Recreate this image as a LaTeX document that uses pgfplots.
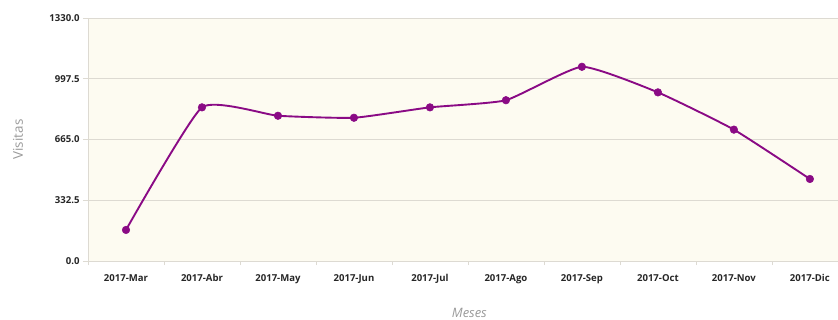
\documentclass[border=0pt]{standalone}
\usepackage{pgfplots}
\pgfplotsset{compat=1.18}
\usepackage{fontspec}
\setmainfont{Open Sans}
\setsansfont{Open Sans}
\definecolor{bgc}{HTML}{FDFBF1}
\definecolor{gridc}{HTML}{DDDAD2}
\definecolor{linec}{HTML}{8A0A85}
\definecolor{labc}{HTML}{9A9A9A}
\begin{document}
\begin{tikzpicture}
\path[use as bounding box] (-88bp,-59bp) rectangle (750bp,261bp);
\begin{axis}[
  scale only axis,
  width=750bp, height=243bp,
  xmin=-0.5, xmax=9.37,
  ymin=0, ymax=1330,
  axis background/.style={fill=bgc},
  axis x line*=bottom,
  axis y line*=left,
  x axis line style={draw=gridc, line width=0.8pt, -},
  y axis line style={draw=gridc, line width=0.6pt, -},
  xtick={0,...,9},
  xticklabels={2017-Mar,2017-Abr,2017-May,2017-Jun,2017-Jul,2017-Ago,2017-Sep,2017-Oct,2017-Nov,2017-Dic},
  major x tick style={draw=none},
  minor xtick={-0.5,0.5,...,8.5},
  minor x tick style={draw=gridc, line width=0.6pt},
  minor tick length=4bp,
  ytick={0,332.5,665,997.5,1330},
  yticklabel style={/pgf/number format/fixed, /pgf/number format/fixed zerofill, /pgf/number format/precision=1, /pgf/number format/1000 sep={}},
  /pgf/number format/assume math mode=true,
  y tick style={draw=gridc, line width=0.6pt},
  major tick length=5bp,
  tick align=outside,
  ymajorgrids,
  grid style={draw=gridc, line width=0.6pt},
  ticklabel style={font=\fontsize{9.6}{10}\selectfont\bfseries, text=black!85},
  xticklabel style={yshift=-5bp},
  xlabel={Meses}, ylabel={Visitas},
  xlabel style={font=\fontsize{13}{15}\selectfont\itshape, text=labc, at={(axis description cs:0.5085,-0.214)}, anchor=center},
  ylabel style={font=\fontsize{13.5}{15}\selectfont, text=labc, at={(axis description cs:-0.0933,0.5)}, anchor=center},
  clip=false,
]
\addplot[color=linec, line width=1.9pt, smooth, tension=0.28,
  mark=*, mark size=3.8bp, mark options={fill=linec, draw=linec, line width=0.5pt}]
  coordinates {
  (0,170) (1,841) (2,795) (3,784) (4,841) (5,880) (6,1063) (7,923) (8,719) (9,449)
  };
\end{axis}
\end{tikzpicture}
\end{document}
